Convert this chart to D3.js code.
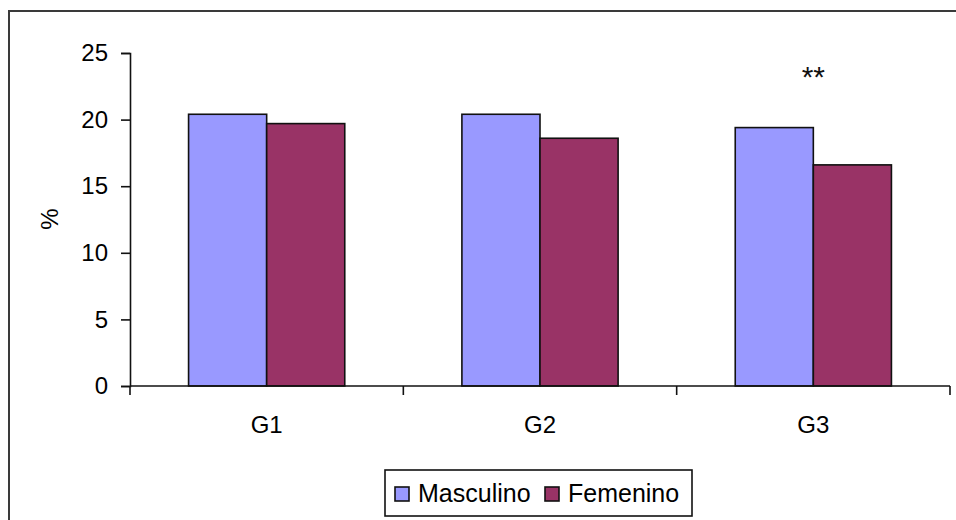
<!DOCTYPE html>
<html>
<head>
<meta charset="utf-8">
<script src="https://cdn.jsdelivr.net/npm/d3@7"></script>
<style>
    body { margin: 0; background: #fff; }
    svg { display: block; font-family: "Liberation Sans", Arial, sans-serif; }
</style>
</head>
<body>
<div id="chart"></div>
<script>
// Chart data
const categories = ['G1', 'G2', 'G3'];
const seriesNames = ['Masculino', 'Femenino'];
const masculino = [20.4, 20.4, 19.4];
const femenino = [19.7, 18.6, 16.6];
const yTicks = [0, 5, 10, 15, 20, 25];
const marks = ['', '', '**'];
const colors = ['#9999ff', '#993366'];

const width = 956, height = 520;
const plot = { left: 130, right: 950, top: 53, bottom: 386 };

const svg = d3.select('#chart').append('svg')
    .attr('width', width)
    .attr('height', height);

// Outer chart border (runs off the right and bottom edges)
svg.append('rect')
    .attr('x', 9).attr('y', 11)
    .attr('width', 980).attr('height', 540)
    .attr('fill', 'none')
    .attr('stroke', '#3a3a3a')
    .attr('stroke-width', 2);

// Scales
const y = d3.scaleLinear().domain([0, 25]).range([plot.bottom, plot.top]);
const x0 = d3.scaleBand().domain(categories).range([plot.left, plot.right])
    .paddingInner(1.5 / 3.5).paddingOuter(0.75 / 3.5);
const x1 = d3.scaleBand().domain(seriesNames).range([0, x0.bandwidth()]);

const rows = categories.map((c, i) => ({ cat: c, values: [masculino[i], femenino[i]], mark: marks[i] }));

// Bars
const groups = svg.selectAll('g.group')
    .data(rows)
    .enter()
    .append('g')
    .attr('class', 'group')
    .attr('transform', d => 'translate(' + x0(d.cat) + ',0)');

groups.selectAll('rect')
    .data(d => d.values.map((v, j) => ({ name: seriesNames[j], value: v, color: colors[j] })))
    .enter()
    .append('rect')
    .attr('x', d => x1(d.name))
    .attr('y', d => y(d.value))
    .attr('width', x1.bandwidth())
    .attr('height', d => y(0) - y(d.value))
    .attr('fill', d => d.color)
    .attr('stroke', '#111')
    .attr('stroke-width', 1.6);

// Significance marks
groups.append('text')
    .attr('x', x0.bandwidth() / 2)
    .attr('y', 87)
    .attr('text-anchor', 'middle')
    .attr('font-size', 30)
    .attr('fill', '#111')
    .text(d => d.mark);

// Y axis
const yAxis = svg.append('g')
    .attr('transform', 'translate(' + plot.left + ',0)')
    .call(d3.axisLeft(y).tickValues(yTicks).tickSize(9).tickPadding(13));
yAxis.select('.domain').attr('stroke', '#111').attr('stroke-width', 1.6);
yAxis.selectAll('.tick line').attr('stroke', '#111').attr('stroke-width', 1.6);
yAxis.selectAll('.tick text').attr('font-size', 24).attr('fill', '#000')
    .attr('font-family', '"Liberation Sans", Arial, sans-serif');

// X axis line with ticks between categories
const xAxis = svg.append('g');
xAxis.append('line')
    .attr('x1', plot.left).attr('x2', plot.right)
    .attr('y1', y(0)).attr('y2', y(0))
    .attr('stroke', '#111').attr('stroke-width', 1.6);
const boundaries = d3.range(categories.length + 1).map(i => plot.left + i * x0.step());
xAxis.selectAll('line.tick')
    .data(boundaries)
    .enter()
    .append('line')
    .attr('class', 'tick')
    .attr('x1', d => d).attr('x2', d => d)
    .attr('y1', y(0)).attr('y2', y(0) + 9)
    .attr('stroke', '#111').attr('stroke-width', 1.6);

// Category labels
xAxis.selectAll('text')
    .data(categories)
    .enter()
    .append('text')
    .attr('x', d => x0(d) + x0.bandwidth() / 2)
    .attr('y', 433)
    .attr('text-anchor', 'middle')
    .attr('font-size', 24)
    .text(d => d);

// Y axis title
svg.append('text')
    .attr('transform', 'translate(58,219) rotate(-90)')
    .attr('text-anchor', 'middle')
    .attr('font-size', 24)
    .text('%');

// Legend
const legend = svg.append('g');
legend.append('rect')
    .attr('x', 385).attr('y', 470)
    .attr('width', 307).attr('height', 46)
    .attr('fill', '#fff')
    .attr('stroke', '#111')
    .attr('stroke-width', 1.6);

const legendX = [395, 545];
seriesNames.forEach((name, i) => {
    legend.append('rect')
        .attr('x', legendX[i]).attr('y', 487)
        .attr('width', 14).attr('height', 14)
        .attr('fill', colors[i])
        .attr('stroke', '#111')
        .attr('stroke-width', 1.6);
    legend.append('text')
        .attr('x', legendX[i] + 23)
        .attr('y', 502)
        .attr('font-size', 25)
        .text(name);
});
</script>
</body>
</html>
